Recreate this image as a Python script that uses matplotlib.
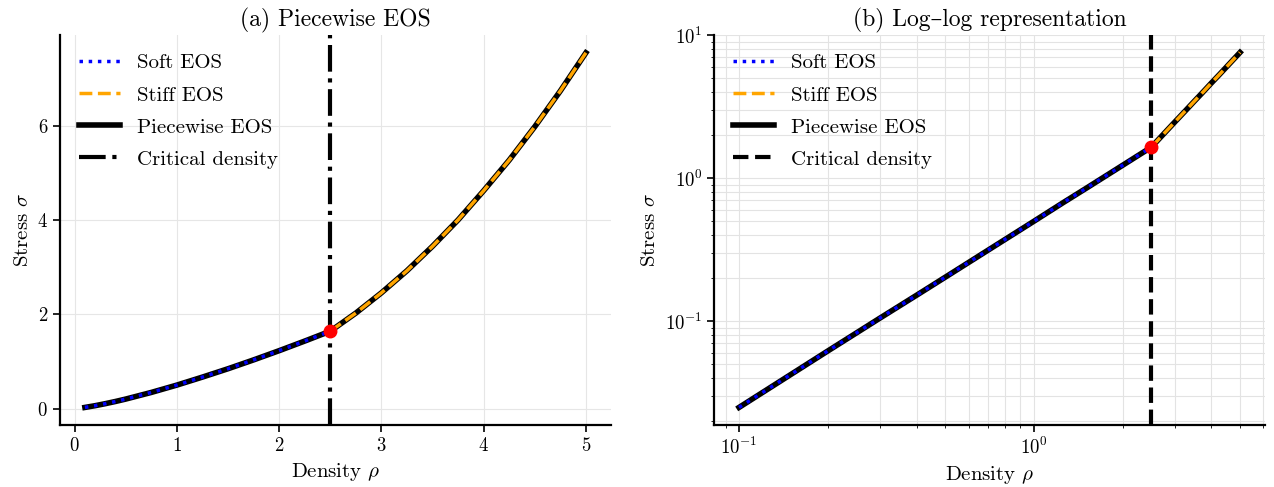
import numpy as np
import matplotlib
matplotlib.use("Agg")
import matplotlib.pyplot as plt
from matplotlib.ticker import MultipleLocator

plt.rcParams['font.family'] = ['cmr10', 'DejaVu Serif']
plt.rcParams['mathtext.fontset'] = 'cm'
plt.rcParams['axes.formatter.use_mathtext'] = True

# values
rho_soft = [0.1, 0.2, 0.3, 0.4, 0.5, 0.75, 1.0, 1.25, 1.5, 1.75, 2.0, 2.25, 2.5]
sig_soft = [0.025, 0.062, 0.105, 0.152, 0.203, 0.344, 0.5, 0.67, 0.847, 1.035, 1.231, 1.435, 1.645]
rho_stiff = [2.5, 2.75, 3.0, 3.25, 3.5, 3.75, 4.0, 4.25, 4.5, 4.75, 5.0]
sig_stiff = [1.645, 2.03, 2.46, 2.93, 3.45, 4.01, 4.63, 5.28, 5.99, 6.75, 7.56]
rho_crit = 2.5
sig_crit = 1.645

rho_all = rho_soft + rho_stiff[1:]
sig_all = sig_soft + sig_stiff[1:]

fig, (ax1, ax2) = plt.subplots(1, 2, figsize=(12.74, 4.87), dpi=100)
fig.subplots_adjust(left=0.047, right=0.993, top=0.928, bottom=0.127, wspace=0.187)

for ax, log in [(ax1, False), (ax2, True)]:
    ax.plot(rho_all, sig_all, color='black', lw=4, label='Piecewise EOS', zorder=2)
    ax.plot(rho_soft, sig_soft, color='blue', ls=':', lw=2.5, label='Soft EOS', zorder=3)
    ax.plot(rho_stiff, sig_stiff, color='orange', ls='--', lw=2.5, label='Stiff EOS', zorder=3)
    ls = '-.' if not log else '--'
    ax.axvline(rho_crit, color='black', ls=ls, lw=3, label='Critical density', zorder=1)
    ax.plot([rho_crit], [sig_crit], 'o', color='red', ms=9, zorder=4)
    if log:
        ax.set_xscale('log')
        ax.set_yscale('log')
        ax.set_ylim(top=10)
        ax.grid(True, which='both', color='#e3e3e3', lw=0.8)
    else:
        ax.yaxis.set_major_locator(MultipleLocator(2))
        ax.grid(True, color='#e6e6e6', lw=0.8)
    ax.set_axisbelow(True)
    for s in ['top', 'right']:
        ax.spines[s].set_visible(False)
    for s in ['left', 'bottom']:
        ax.spines[s].set_linewidth(1.6)
    ax.tick_params(labelsize=13.5, width=1.2, length=5)
    ax.set_xlabel(r'Density $\rho$', fontsize=15)
    ax.set_ylabel(r'Stress $\sigma$', fontsize=15)
    h, l = ax.get_legend_handles_labels()
    order = [1, 2, 0, 3]
    ax.legend([h[i] for i in order], [l[i] for i in order], frameon=False,
              fontsize=15, loc='upper left', handlelength=2.0, labelspacing=0.65)

ax1.set_title('(a) Piecewise EOS', fontsize=17)
ax2.set_title('(b) Log\u2013log representation', fontsize=17)

fig.savefig('out.png', dpi=100)
